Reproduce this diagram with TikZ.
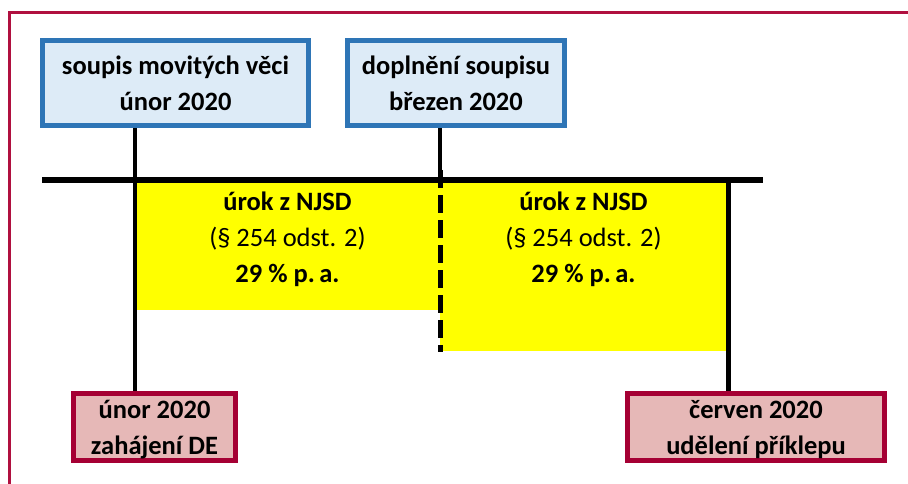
\documentclass[tikz,border=0pt]{standalone}
\usepackage{fontspec}
\setmainfont{Carlito}
\definecolor{frame}{HTML}{B0103F}
\definecolor{bluebd}{HTML}{2E75B6}
\definecolor{bluefill}{HTML}{DDEBF7}
\definecolor{redbd}{HTML}{A50034}
\definecolor{redfill}{HTML}{E6B8B7}
\definecolor{yel}{HTML}{FFFF00}
\tikzset{
  txt/.style={font=\fontsize{26.5}{36}\selectfont\bfseries, align=center, inner sep=0pt},
  topbox/.style={draw=bluebd, fill=bluefill, line width=5pt, minimum height=85pt, inner sep=0pt, txt},
  botbox/.style={draw=redbd, fill=redfill, line width=5pt, minimum height=67pt, inner sep=0pt, txt, text depth=0pt},
  yelbox/.style={fill=yel, inner sep=0pt},
  conn/.style={line width=4.5pt},
  tline/.style={line width=6pt},
}
\begin{document}
\begin{tikzpicture}[x=1pt,y=-1pt]
\useasboundingbox (0,0) rectangle (908,484);
\clip (0,0) rectangle (908,484);
\draw[frame, line width=3pt] (9,13) rectangle (930,510);
% yellow areas
\node[yelbox, minimum width=303pt, minimum height=127pt] (y1) at (288.5,246.5) {};
\node[yelbox, minimum width=286pt, minimum height=168pt] (y2) at (583,267) {};
% texts in yellow
\node[txt] (t1) at (287.5,239) {úrok z NJSD\\{\mdseries(§ 254 odst. 2)}\\29 \% p.\,a.};
\node[txt] (t2) at (583.5,239) {úrok z NJSD\\{\mdseries(§ 254 odst. 2)}\\29 \% p.\,a.};
% boxes
\node[topbox, minimum width=266pt] (b1) at (175.5,83) {soupis movitých věci\\únor 2020};
\node[topbox, minimum width=217pt] (b2) at (456,83) {doplnění soupisu\\březen 2020};
\node[botbox, minimum width=162pt] (c1) at (154.5,427) {únor 2020\\zahájení DE};
\node[botbox, minimum width=257pt] (c2) at (756,427) {červen 2020\\udělení příklepu};
% timeline
\coordinate (tl) at (42,180);
\coordinate (tr) at (763,180);
\coordinate (v1) at (135,180);
\coordinate (v2) at (440,180);
\coordinate (v3) at (728.5,180);
\coordinate (dend) at (440,352);
\draw[conn] (b1.south -| v1) -- (c1.north -| v1);
\draw[conn] (b2.south -| v2) -- (v2);
\draw[conn] (v3) -- (c2.north -| v3);
\draw[line width=5pt, dash pattern=on 18pt off 7pt] ([yshift=10pt]v2) -- (dend);
\draw[tline] (tl) -- (tr);
\end{tikzpicture}
\end{document}
